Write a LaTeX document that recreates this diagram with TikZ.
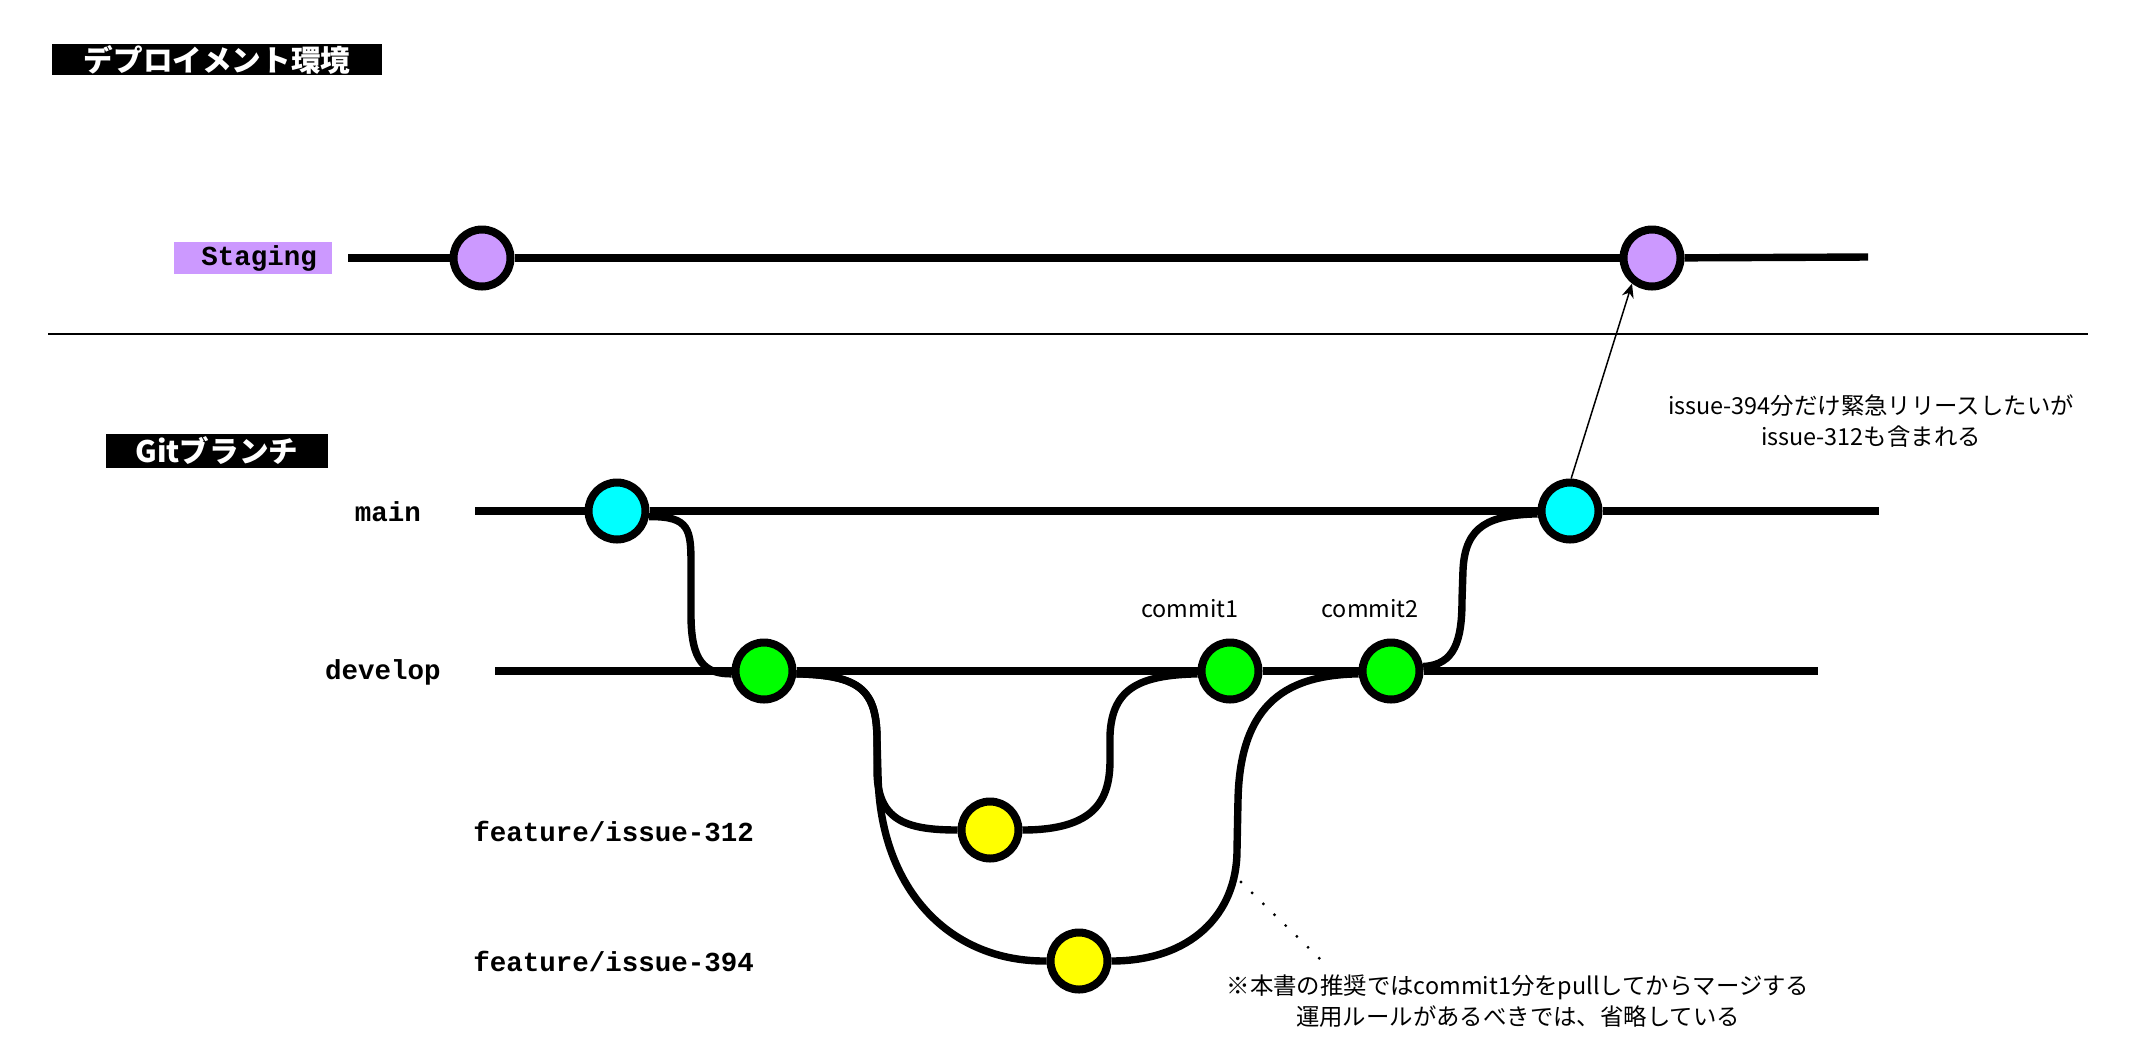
\documentclass[tikz,border=0pt]{standalone}
\usepackage{fontspec}
\setmainfont{Liberation Sans}
\setmonofont{Liberation Mono}
\newfontfamily\jp{Noto Sans CJK JP}
\usetikzlibrary{arrows.meta}
\definecolor{stg}{HTML}{CC99FF}
\definecolor{cy}{HTML}{00FFFF}
\definecolor{gr}{HTML}{00FF00}
\definecolor{ye}{HTML}{FFFF00}
\begin{document}
\begin{tikzpicture}[x=0.5pt,y=-0.5pt,
  commit/.style={circle,draw=black,line width=4pt,minimum size=28.5pt,inner sep=0pt},
  branch/.style={line width=3.7pt},
  brlabel/.style={font=\ttfamily\bfseries\fontsize{13.75}{16}\selectfont,inner sep=0pt},
  titlebox/.style={fill=black,text=white,font=\jp\bfseries\fontsize{14.8}{17}\selectfont,inner sep=0pt},
  note/.style={font=\jp\fontsize{11.7}{15.2}\selectfont,align=center,inner sep=0pt},
]
\path[use as bounding box] (0,0) rectangle (2142,1062);

% titles
\node[titlebox,minimum width=165pt,minimum height=15.5pt] (t1) at (217,59.5) {デプロイメント環境};
\node[titlebox,minimum width=111pt,minimum height=17pt] (t2) at (217,451) {Gitブランチ};

% staging label
\node[brlabel,fill=stg,minimum height=16pt,text width=64pt,align=right,inner xsep=7.5pt] (stl) at (253,258) {Staging};

% commits
\node[commit,fill=stg] (s1) at (482,258) {};
\node[commit,fill=stg] (s2) at (1652,258) {};
\node[commit,fill=cy] (m1) at (617,511) {};
\node[commit,fill=cy] (m2) at (1570,511) {};
\node[commit,fill=gr] (d1) at (764,671) {};
\node[commit,fill=gr] (c1) at (1230,671) {};
\node[commit,fill=gr] (c2) at (1391,671) {};
\node[commit,fill=ye] (y1) at (990,830) {};
\node[commit,fill=ye] (y2) at (1079,961) {};

% free ends
\coordinate (sL) at (348,258);
\coordinate (sR) at (1868,257);
\coordinate (mL) at (475,511);
\coordinate (mR) at (1879,511);
\coordinate (dL) at (495,671);
\coordinate (dR) at (1818,671);
\coordinate (sepL) at (48,334);
\coordinate (sepR) at (2088,334);
\coordinate (dotA) at (1241,882);
\coordinate (dotB) at (1320,959);

% labels
\node[brlabel] (lmain) at (388,512) {main};
\node[brlabel] (ldev) at (383,672) {develop};
\node[brlabel,anchor=west] (lf1) at (473,831) {feature/issue-312};
\node[brlabel,anchor=west] (lf2) at (473,961) {feature/issue-394};
\node[note] (lc1) at (1190,609) {commit1};
\node[note] (lc2) at (1370,609) {commit2};
\node[note] (ann) at (1871,421) {issue-394分だけ緊急リリースしたいが\\issue-312も含まれる};
\node[note] (nt) at (1518,1001) {※本書の推奨ではcommit1分をpullしてからマージする\\運用ルールがあるべきでは、省略している};

% straight branch lines
\draw[branch] (sL) -- (s1);
\draw[branch] (s1) -- (s2);
\draw[branch] (s2) -- (sR);
\draw[branch] (mL) -- (m1);
\draw[branch] (m1) -- (m2);
\draw[branch] (m2) -- (mR);
\draw[branch] (dL) -- (d1);
\draw[branch] (d1) -- (c1);
\draw[branch] (c1) -- (c2);
\draw[branch] (c2) -- (dR);

% curved connectors
\draw[branch] (m1.-10) .. controls (690,516) and (691,530) .. (691,565) -- (691,615) .. controls (691,662) and (705,674) .. (d1.185);
\draw[branch] (d1.-5) .. controls (860,675) and (877,690) .. (877,740) -- (877,770) .. controls (877,820) and (905,830) .. (y1.west);
\draw[branch] (d1.-5) .. controls (860,675) and (877,690) .. (877,740) -- (878,775) .. controls (880,890) and (950,962) .. (y2.west);
\draw[branch] (y1.east) .. controls (1095,830) and (1110,800) .. (1110,760) -- (1110,735) .. controls (1112,688) and (1140,675) .. (c1.185);
\draw[branch] (y2.east) .. controls (1190,961) and (1237,915) .. (1237,850) -- (1238,800) .. controls (1240,700) and (1290,675) .. (c2.185);
\draw[branch] (c2.8) .. controls (1455,665) and (1462,640) .. (1462,600) -- (1463,570) .. controls (1465,525) and (1490,515) .. (m2.185);

% arrow, separator, dotted pointer
\draw[line width=0.75pt,-{Stealth[length=7pt,width=6pt]}] (m2.88) -- (s2.232);
\draw[line width=1pt] (sepL) -- (sepR);
\draw[line width=1.6pt,line cap=round,dash pattern=on 0pt off 7.8pt] (dotA) -- (dotB);
\end{tikzpicture}
\end{document}
